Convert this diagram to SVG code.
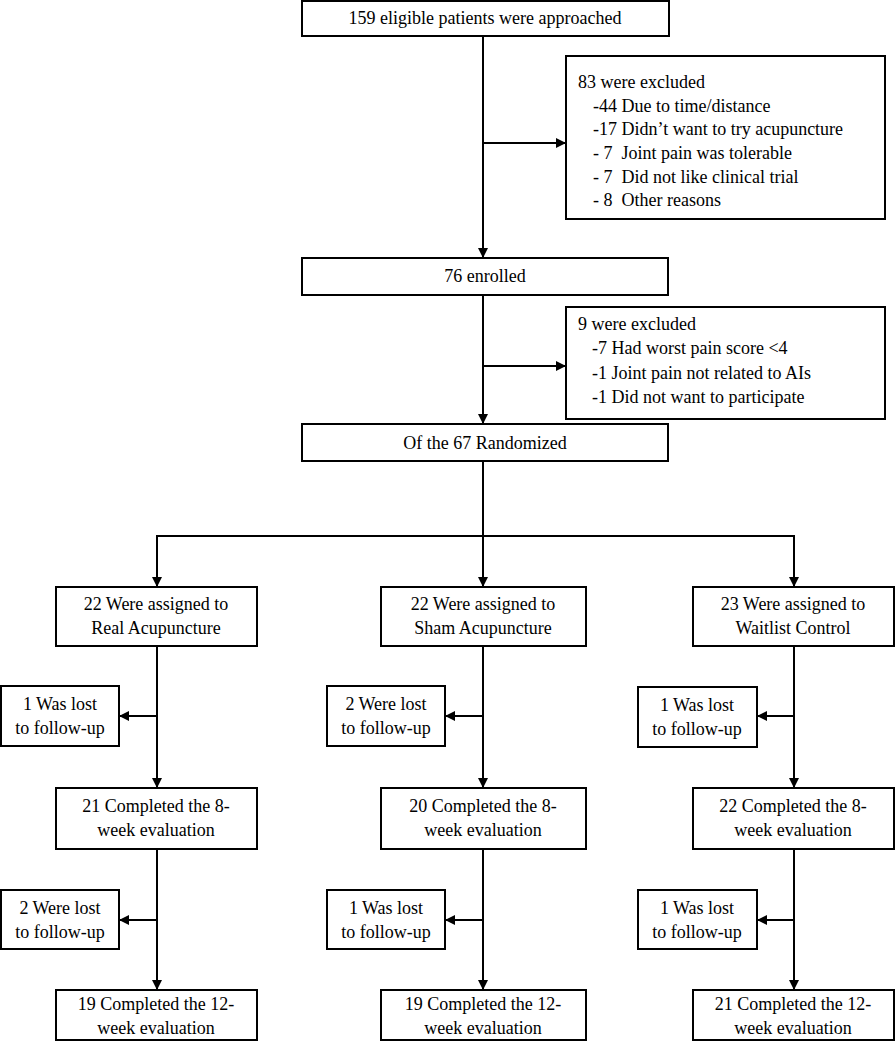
<svg xmlns="http://www.w3.org/2000/svg" width="895" height="1050" viewBox="0 0 895 1050">
<style>
.box{fill:#fff;stroke:#000;stroke-width:2}
.t{font-size:18px;fill:#000}
.c{text-anchor:middle}
.ln{fill:none;stroke:#000;stroke-width:2}
</style>
<defs>
<marker id="ah" viewBox="0 0 10 10" refX="10" refY="5" markerWidth="10" markerHeight="10" markerUnits="userSpaceOnUse" orient="auto">
<path d="M0,0 L10,5 L0,10 z" fill="#000"/>
</marker>
</defs>
<g id="connectors">
<line class="ln" x1="483" y1="36" x2="483" y2="258" marker-end="url(#ah)"/>
<line class="ln" x1="483" y1="143" x2="566" y2="143" marker-end="url(#ah)"/>
<line class="ln" x1="483" y1="295" x2="483" y2="424" marker-end="url(#ah)"/>
<line class="ln" x1="483" y1="366" x2="566" y2="366" marker-end="url(#ah)"/>
<line class="ln" x1="483" y1="461" x2="483" y2="536"/>
<line class="ln" x1="156" y1="536" x2="795" y2="536"/>
<line class="ln" x1="157" y1="536" x2="157" y2="587" marker-end="url(#ah)"/>
<line class="ln" x1="483" y1="536" x2="483" y2="587" marker-end="url(#ah)"/>
<line class="ln" x1="794" y1="536" x2="794" y2="587" marker-end="url(#ah)"/>
<line class="ln" x1="157" y1="646" x2="157" y2="788" marker-end="url(#ah)"/>
<line class="ln" x1="483" y1="646" x2="483" y2="788" marker-end="url(#ah)"/>
<line class="ln" x1="794" y1="646" x2="794" y2="788" marker-end="url(#ah)"/>
<line class="ln" x1="157" y1="716" x2="119" y2="716" marker-end="url(#ah)"/>
<line class="ln" x1="483" y1="716" x2="445" y2="716" marker-end="url(#ah)"/>
<line class="ln" x1="794" y1="716" x2="757" y2="716" marker-end="url(#ah)"/>
<line class="ln" x1="157" y1="849" x2="157" y2="990" marker-end="url(#ah)"/>
<line class="ln" x1="483" y1="849" x2="483" y2="990" marker-end="url(#ah)"/>
<line class="ln" x1="794" y1="849" x2="794" y2="990" marker-end="url(#ah)"/>
<line class="ln" x1="157" y1="920" x2="119" y2="920" marker-end="url(#ah)"/>
<line class="ln" x1="483" y1="920" x2="445" y2="920" marker-end="url(#ah)"/>
<line class="ln" x1="794" y1="920" x2="757" y2="920" marker-end="url(#ah)"/>
</g>
<g font-family="'Liberation Serif', 'Times New Roman', 'DejaVu Serif', serif">
<g id="approached">
<rect class="box" x="302" y="1" width="367" height="35"/>
<text class="t c" x="485" y="24">159 eligible patients were approached</text>
</g>
<g id="excluded1">
<rect class="box" x="566" y="56" width="319" height="163"/>
<text class="t" x="578" y="88">83 were excluded</text>
<text class="t" x="593" y="112">-44 Due to time/distance</text>
<text class="t" x="593" y="135">-17 Didn’t want to try acupuncture</text>
<text class="t" x="593" y="159" xml:space="preserve">- 7  Joint pain was tolerable</text>
<text class="t" x="593" y="183" xml:space="preserve">- 7  Did not like clinical trial</text>
<text class="t" x="593" y="206" xml:space="preserve">- 8  Other reasons</text>
</g>
<g id="enrolled">
<rect class="box" x="302" y="258" width="366" height="37"/>
<text class="t c" x="485" y="282">76 enrolled</text>
</g>
<g id="excluded2">
<rect class="box" x="566" y="307" width="319" height="112"/>
<text class="t" x="578" y="330">9 were excluded</text>
<text class="t" x="592" y="354">-7 Had worst pain score &lt;4</text>
<text class="t" x="592" y="379">-1 Joint pain not related to AIs</text>
<text class="t" x="592" y="403">-1 Did not want to participate</text>
</g>
<g id="randomized">
<rect class="box" x="302" y="424" width="366" height="37"/>
<text class="t c" x="485" y="449">Of the 67 Randomized</text>
</g>
<g id="real">
<rect class="box" x="56" y="587" width="201" height="59"/>
<text class="t c" x="156" y="610">22 Were assigned to</text>
<text class="t c" x="156" y="634">Real Acupuncture</text>
</g>
<g id="sham">
<rect class="box" x="381" y="587" width="205" height="59"/>
<text class="t c" x="483" y="610">22 Were assigned to</text>
<text class="t c" x="483" y="634">Sham Acupuncture</text>
</g>
<g id="waitlist">
<rect class="box" x="693" y="587" width="201" height="59"/>
<text class="t c" x="793" y="610">23 Were assigned to</text>
<text class="t c" x="793" y="634">Waitlist Control</text>
</g>
<g id="lost1a">
<rect class="box" x="1" y="686" width="118" height="60"/>
<text class="t c" x="60" y="710">1 Was lost</text>
<text class="t c" x="60" y="734">to follow-up</text>
</g>
<g id="lost1b">
<rect class="box" x="327" y="686" width="118" height="60"/>
<text class="t c" x="386" y="710">2 Were lost</text>
<text class="t c" x="386" y="734">to follow-up</text>
</g>
<g id="lost1c">
<rect class="box" x="638" y="687" width="119" height="60"/>
<text class="t c" x="697" y="711">1 Was lost</text>
<text class="t c" x="697" y="735">to follow-up</text>
</g>
<g id="wk8a">
<rect class="box" x="56" y="788" width="201" height="61"/>
<text class="t c" x="156" y="812">21 Completed the 8-</text>
<text class="t c" x="156" y="836">week evaluation</text>
</g>
<g id="wk8b">
<rect class="box" x="381" y="788" width="205" height="61"/>
<text class="t c" x="483" y="812">20 Completed the 8-</text>
<text class="t c" x="483" y="836">week evaluation</text>
</g>
<g id="wk8c">
<rect class="box" x="693" y="788" width="201" height="61"/>
<text class="t c" x="793" y="812">22 Completed the 8-</text>
<text class="t c" x="793" y="836">week evaluation</text>
</g>
<g id="lost2a">
<rect class="box" x="1" y="890" width="118" height="59"/>
<text class="t c" x="60" y="914">2 Were lost</text>
<text class="t c" x="60" y="938">to follow-up</text>
</g>
<g id="lost2b">
<rect class="box" x="327" y="890" width="118" height="59"/>
<text class="t c" x="386" y="914">1 Was lost</text>
<text class="t c" x="386" y="938">to follow-up</text>
</g>
<g id="lost2c">
<rect class="box" x="638" y="890" width="119" height="59"/>
<text class="t c" x="697" y="914">1 Was lost</text>
<text class="t c" x="697" y="938">to follow-up</text>
</g>
<g id="wk12a">
<rect class="box" x="56" y="990" width="201" height="50"/>
<text class="t c" x="156" y="1010">19 Completed the 12-</text>
<text class="t c" x="156" y="1034">week evaluation</text>
</g>
<g id="wk12b">
<rect class="box" x="381" y="990" width="205" height="50"/>
<text class="t c" x="483" y="1010">19 Completed the 12-</text>
<text class="t c" x="483" y="1034">week evaluation</text>
</g>
<g id="wk12c">
<rect class="box" x="693" y="990" width="201" height="50"/>
<text class="t c" x="793" y="1010">21 Completed the 12-</text>
<text class="t c" x="793" y="1034">week evaluation</text>
</g>
</g>
</svg>
